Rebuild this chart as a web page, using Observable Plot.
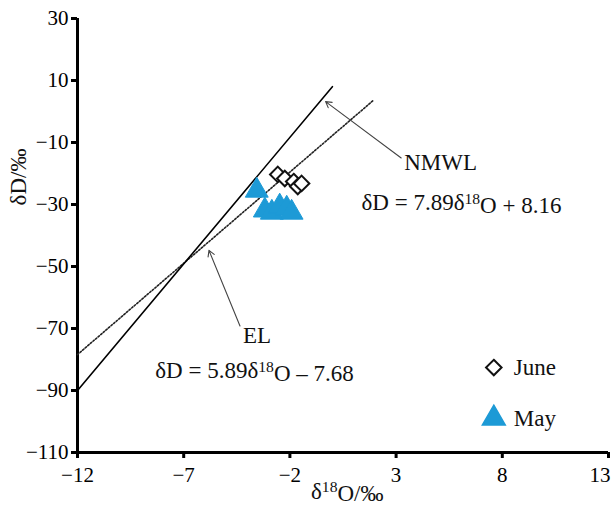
<!DOCTYPE html>
<html>
<head>
<meta charset="utf-8">
<script src="https://cdn.jsdelivr.net/npm/d3@7"></script>
<script src="https://cdn.jsdelivr.net/npm/@observablehq/plot@0.6"></script>
<style>
  html, body { margin: 0; padding: 0; background: white; }
  #chart { width: 611px; height: 513px; }
</style>
</head>
<body>
<div id="chart"></div>
<script>
// ---- data ----
const xTicks = [-12, -7, -2, 3, 8, 13];
const yTicks = [-110, -90, -70, -50, -30, -10, 10, 30];

// June (diamonds)
const juneX = [-2.57, -2.24, -1.82, -1.63, -1.45];
const juneY = [-20.3, -21.6, -22.6, -24.2, -23.2];

// May (triangles)
const mayX = [-3.56, -3.18, -2.85, -2.48, -2.15, -1.92];
const mayY = [-25.5, -31.9, -32.6, -30.6, -31.3, -32.6];

// reference lines (end points)
const nmwlX = [-12, 0];
const nmwlY = [-90, 8];
const elX = [-12, 1.93];
const elY = [-78.4, 3.6];

// annotations
const labels = ["NMWL", "δD = 7.89δ18O + 8.16", "EL", "δD = 5.89δ18O – 7.68"];
const labelX = [3.38, 1.37, -4.21, -8.34];
const labelY = [-16.6, -29.4, -72.2, -83.6];
const arrowX1 = [3.24, -4.35];
const arrowY1 = [-15.0, -69.2];
const arrowX2 = [-0.32, -5.81];
const arrowY2 = [3.2, -44.8];

// legend
const legendNames = ["June", "May"];
const legendX = [7.6, 7.6];
const legendY = [-82.6, -99.0];

const june = juneX.map((x, i) => ({x, y: juneY[i]}));
const may = mayX.map((x, i) => ({x, y: mayY[i]}));
const nmwl = nmwlX.map((x, i) => ({x, y: nmwlY[i]}));
const el = elX.map((x, i) => ({x, y: elY[i]}));
const ann = labels.map((t, i) => ({t, x: labelX[i], y: labelY[i]}));
const arrows = arrowX1.map((x1, i) => ({x1, y1: arrowY1[i], x2: arrowX2[i], y2: arrowY2[i]}));
const legend = legendNames.map((n, i) => ({n, x: legendX[i], y: legendY[i]}));

const FONT = "Liberation Serif, Times New Roman, serif";
const BLUE = "#1d9ad6";
const fmt = d => d < 0 ? "\u2212" + Math.abs(d) : String(d);

const chart = Plot.plot({
  width: 611,
  height: 513,
  marginLeft: 77,
  marginTop: 18,
  marginRight: 3,
  marginBottom: 61,
  style: {fontFamily: FONT, background: "white", color: "black", overflow: "visible"},
  x: {domain: [-12, 13]},
  y: {domain: [-110, 30]},
  marks: [
    Plot.axisY({ticks: yTicks, tickSize: 6, tickPadding: 3, fontSize: 21, strokeWidth: 3, label: null, tickFormat: fmt}),
    Plot.axisX({ticks: xTicks, tickSize: 6, tickPadding: 9, fontSize: 21, strokeWidth: 3, label: null, tickFormat: fmt}),
    Plot.ruleX([-12], {strokeWidth: 3}),
    Plot.ruleY([-110], {strokeWidth: 3}),
    Plot.line(el, {x: "x", y: "y", stroke: "#222", strokeWidth: 1.6, strokeDasharray: "1.6,1.8"}),
    Plot.line(nmwl, {x: "x", y: "y", stroke: "black", strokeWidth: 1.6}),
    Plot.arrow(arrows, {x1: "x1", y1: "y1", x2: "x2", y2: "y2", stroke: "#444", strokeWidth: 1.1, headLength: 9}),
    Plot.dot(may, {x: "x", y: "y", symbol: "triangle", r: 8.5, fill: BLUE, stroke: BLUE, strokeWidth: 1}),
    Plot.dot(june, {x: "x", y: "y", symbol: "diamond2", r: 7, fill: "white", stroke: "#111", strokeWidth: 2}),
    Plot.text(ann, {x: "x", y: "y", text: "t", textAnchor: "start", fontSize: 23, fill: "#111"}),
    Plot.dot(legend.slice(0, 1), {x: "x", y: "y", symbol: "diamond2", r: 7, fill: "white", stroke: "#111", strokeWidth: 2}),
    Plot.dot(legend.slice(1), {x: "x", y: "y", symbol: "triangle", r: 8.5, fill: BLUE, stroke: BLUE}),
    Plot.text(legend, {x: "x", y: "y", text: "n", textAnchor: "start", dx: 20, fontSize: 23, fill: "#111"}),
    Plot.text(["δ18O/‰"], {x: 0.7, frameAnchor: "bottom", dy: 46, fontSize: 23, fill: "#111"}),
    Plot.text(["δD/‰"], {y: -30.3, frameAnchor: "left", dx: -59, rotate: -90, fontSize: 23, fill: "#111"})
  ]
});
document.getElementById("chart").appendChild(chart);

// superscript the "18" in δ18O
d3.select(chart).selectAll("text").each(function() {
  const el = d3.select(this);
  const s = el.text();
  if (!s.includes("δ18O")) return;
  const parts = s.split("18");
  el.text("");
  parts.forEach((p, i) => {
    if (i > 0) {
      el.append("tspan").attr("dy", "-0.4em").attr("font-size", "0.68em").text("18");
      el.append("tspan").attr("dy", "0.4em").text(p);
    } else {
      el.append("tspan").text(p);
    }
  });
});

// keep the last x tick label ("13") inside the picture, as in the reference
d3.select(chart).selectAll("text").filter(function() {
  return this.textContent === "13";
}).attr("text-anchor", "end").attr("dx", "2");
</script>
</body>
</html>
